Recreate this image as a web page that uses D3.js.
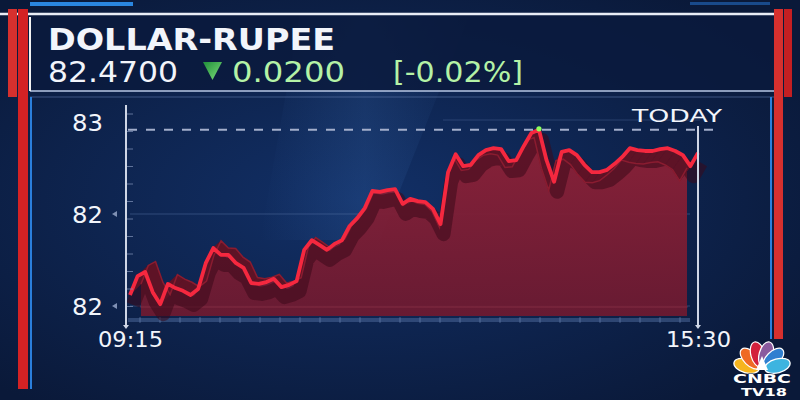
<!DOCTYPE html>
<html>
<head>
<meta charset="utf-8">
<title>DOLLAR-RUPEE</title>
<script src="https://d3js.org/d3.v7.min.js"></script>
<style>
  body, html { margin: 0; padding: 0; background: #0a1836; overflow: hidden; }
  svg { display: block; }
  .lbl { font-family: "DejaVu Sans", Arial, sans-serif; fill: #f2f5fb; }
</style>
</head>
<body>
<div id="canvas"></div>
<script>
// ---- data ----
var title = "DOLLAR-RUPEE";
var lastPrice = "82.4700";
var change = "0.0200";
var changePct = "[-0.02%]";
var periodLabel = "TODAY";
var timeLabels = ["09:15", "15:30"];
var sessionMinutes = [0, 375];       // 09:15 -> 15:30
var stepMinutes = 5;
var yTicks = [82.2, 82.4, 82.6];
// USD/INR, one point every 5 minutes from 09:15
var rates = [
  82.224, 82.265, 82.274, 82.230, 82.204, 82.248, 82.239, 82.233, 82.224, 82.237,
  82.293, 82.326, 82.311, 82.311, 82.293, 82.283, 82.250, 82.248, 82.252, 82.259,
  82.241, 82.246, 82.254, 82.322, 82.343, 82.333, 82.322, 82.335, 82.343, 82.374,
  82.391, 82.413, 82.450, 82.448, 82.452, 82.454, 82.422, 82.433, 82.428, 82.426,
  82.411, 82.378, 82.491, 82.530, 82.504, 82.507, 82.528, 82.539, 82.543, 82.541,
  82.515, 82.517, 82.548, 82.576, 82.583, 82.517, 82.470, 82.535, 82.539, 82.528,
  82.507, 82.491, 82.491, 82.496, 82.509, 82.524, 82.543, 82.539, 82.537, 82.537,
  82.541, 82.543, 82.537, 82.528, 82.504, 82.533
];

var W = 800, H = 400;
var svg = d3.select("#canvas").append("svg")
    .attr("width", W).attr("height", H);
var defs = svg.append("defs");

// background
var bg = defs.append("radialGradient").attr("id", "bg")
    .attr("cx", "45%").attr("cy", "50%").attr("r", "65%");
bg.append("stop").attr("offset", "0%").attr("stop-color", "#123067");
bg.append("stop").attr("offset", "100%").attr("stop-color", "#0a1939");
svg.append("rect").attr("width", W).attr("height", H).attr("fill", "url(#bg)");

// light streak
var streak = defs.append("linearGradient").attr("id", "streak")
    .attr("x1", "0").attr("y1", "0").attr("x2", "1").attr("y2", "0");
streak.append("stop").attr("offset", "0%").attr("stop-color", "#3a6cb0").attr("stop-opacity", 0);
streak.append("stop").attr("offset", "50%").attr("stop-color", "#3a6cb0").attr("stop-opacity", 0.35);
streak.append("stop").attr("offset", "100%").attr("stop-color", "#3a6cb0").attr("stop-opacity", 0);
svg.append("path").attr("d", "M300,14 L470,14 L380,240 L260,240 Z").attr("fill", "url(#streak)").attr("opacity", 0.6);

// header panel
svg.append("rect").attr("x", 30).attr("y", 15).attr("width", 745).attr("height", 76)
    .attr("fill", "#0a1a3d").attr("opacity", 0.85);
svg.append("line").attr("x1", 0).attr("x2", 778).attr("y1", 14).attr("y2", 14)
    .attr("stroke", "#e9edf6").attr("stroke-width", 2.5);
svg.append("line").attr("x1", 30).attr("x2", 778).attr("y1", 91).attr("y2", 91)
    .attr("stroke", "#b9c8e6").attr("stroke-width", 1.5);
svg.append("line").attr("x1", 30).attr("x2", 775).attr("y1", 97).attr("y2", 97)
    .attr("stroke", "#5d77a8").attr("stroke-width", 1).attr("opacity", 0.6);
svg.append("rect").attr("x", 30).attr("y", 2).attr("width", 103).attr("height", 4).attr("fill", "#2a86e0");
svg.append("rect").attr("x", 690).attr("y", 2).attr("width", 80).attr("height", 3).attr("fill", "#1f5fae").attr("opacity", 0.7);

// side bars
svg.append("rect").attr("x", 30).attr("y", 97).attr("width", 2).attr("height", 292).attr("fill", "#2b7fdc");
svg.append("rect").attr("x", 770).attr("y", 97).attr("width", 2).attr("height", 242).attr("fill", "#2b7fdc");
svg.append("rect").attr("x", 8).attr("y", 9).attr("width", 9).attr("height", 88).attr("fill", "#d6302e");
svg.append("rect").attr("x", 18).attr("y", 9).attr("width", 10).attr("height", 380).attr("fill", "#d42224");
svg.append("rect").attr("x", 29).attr("y", 17).attr("width", 2).attr("height", 74).attr("fill", "#f2f2f2");
svg.append("rect").attr("x", 774).attr("y", 9).attr("width", 9).attr("height", 330).attr("fill", "#d6302e");
svg.append("rect").attr("x", 784).attr("y", 9).attr("width", 8).attr("height", 88).attr("fill", "#c41f22");

// header text
svg.append("text").attr("class", "lbl").text(title)
    .attr("x", 48).attr("y", 50).attr("textLength", 287).attr("lengthAdjust", "spacingAndGlyphs")
    .style("font-size", "30px").style("font-weight", "bold");
svg.append("text").attr("class", "lbl").text(lastPrice)
    .attr("x", 48).attr("y", 82).attr("textLength", 130).attr("lengthAdjust", "spacingAndGlyphs")
    .style("font-size", "28px");
var tri = defs.append("linearGradient").attr("id", "tri")
    .attr("x1", "0").attr("y1", "0").attr("x2", "1").attr("y2", "1");
tri.append("stop").attr("offset", "0%").attr("stop-color", "#1f8f3a");
tri.append("stop").attr("offset", "100%").attr("stop-color", "#7fe07a");
svg.append("path").attr("d", "M203,62 L222,62 L212.5,80 Z").attr("fill", "url(#tri)");
svg.append("text").attr("class", "lbl").text(change)
    .attr("x", 232).attr("y", 82).attr("textLength", 113).attr("lengthAdjust", "spacingAndGlyphs")
    .style("font-size", "28px").style("fill", "#b4f2a6");
svg.append("text").attr("class", "lbl").text(changePct)
    .attr("x", 393).attr("y", 82).attr("textLength", 130).attr("lengthAdjust", "spacingAndGlyphs")
    .style("font-size", "28px").style("fill", "#b4f2a6");

// ---- chart ----
var x = d3.scaleLinear().domain(sessionMinutes).range([130, 698]);
var y = d3.scaleLinear().domain([yTicks[0], yTicks[2]]).range([306, 122]);
var pts = rates.map(function(v, i) { return [x(i * stepMinutes), y(v)]; });
var n = pts.length;
var baseY = 316;

// grid
svg.append("g").selectAll("line").data(yTicks.slice(0, 2)).enter().append("line")
    .attr("x1", 130).attr("x2", 690)
    .attr("y1", function(d) { return y(d); }).attr("y2", function(d) { return y(d); })
    .attr("stroke", "#5a76a8").attr("stroke-width", 1).attr("opacity", 0.45);
svg.append("line").attr("x1", 443).attr("x2", 700).attr("y1", 120).attr("y2", 120)
    .attr("stroke", "#5a76a8").attr("opacity", 0.35);
svg.append("rect").attr("x", 128).attr("y", 318).attr("width", 562).attr("height", 4)
    .attr("fill", "#4a6698").attr("opacity", 0.55);
svg.append("g").selectAll("line").data(d3.range(0, 28)).enter().append("line")
    .attr("x1", function(d) { return 140 + d * 20; }).attr("x2", function(d) { return 140 + d * 20; })
    .attr("y1", 317).attr("y2", 323).attr("stroke", "#7d94c0").attr("opacity", 0.5);

// back layer (3D depth)
var back = pts.map(function(p, i) {
  var t = i / (n - 1);
  return [p[0] + 11 - 22 * t, p[1] - 11 + 26 * t];
});

var fillG = defs.append("linearGradient").attr("id", "fillG")
    .attr("x1", "0").attr("y1", "0").attr("x2", "0").attr("y2", "1");
fillG.append("stop").attr("offset", "0%").attr("stop-color", "#8e2137");
fillG.append("stop").attr("offset", "100%").attr("stop-color", "#6c1a31");
var area = d3.area().x(function(d) { return d[0]; }).y0(baseY).y1(function(d) { return d[1]; });
svg.append("path").datum(back).attr("d", area).attr("fill", "url(#fillG)").attr("opacity", 0.95);
svg.append("line").attr("x1", 140).attr("x2", 688).attr("y1", 307).attr("y2", 307)
    .attr("stroke", "#b04a60").attr("opacity", 0.35);

var line = d3.line().x(function(d) { return d[0]; }).y(function(d) { return d[1]; });
// shadow under the ribbon
svg.append("path").datum(pts.map(function(p) { return [p[0] + 3, p[1] + 10]; }))
    .attr("d", line).attr("fill", "none").attr("stroke", "#3a0a1a")
    .attr("stroke-width", 14).attr("stroke-linejoin", "round").attr("opacity", 0.55);

// walls
var walls = d3.range(n - 1).map(function(i) {
  return [pts[i], pts[i + 1], back[i + 1], back[i]];
});
svg.append("g").selectAll("path").data(walls).enter().append("path")
    .attr("d", function(d) { return "M" + d.join("L") + "Z"; })
    .attr("fill", "#5e1326").attr("stroke", "#5e1326").attr("stroke-width", 0.6);
svg.append("path").datum(back).attr("d", line).attr("fill", "none")
    .attr("stroke", "#8a1c30").attr("stroke-width", 1.5);

// front line
svg.append("path").datum(pts).attr("d", line).attr("fill", "none")
    .attr("stroke", "#f5283f").attr("stroke-width", 3.8).attr("stroke-linejoin", "round");

// day high
var hi = d3.max(rates);
var hiIdx = rates.indexOf(hi);
svg.append("line").attr("x1", 128).attr("x2", 718).attr("y1", y(hi)).attr("y2", y(hi))
    .attr("stroke", "#a3aecb").attr("stroke-width", 2).attr("stroke-dasharray", "9,9");
svg.append("circle").attr("cx", x(hiIdx * stepMinutes)).attr("cy", y(hi) - 1).attr("r", 2.6).attr("fill", "#8dff5e");

// axis lines
svg.append("line").attr("x1", 126).attr("x2", 126).attr("y1", 105).attr("y2", 325)
    .attr("stroke", "#cfd6e6").attr("stroke-width", 2);
svg.append("line").attr("x1", 698).attr("x2", 698).attr("y1", 126).attr("y2", 325)
    .attr("stroke", "#cfd6e6").attr("stroke-width", 2);
svg.append("g").selectAll("path").data([126, 698]).enter().append("path")
    .attr("d", function(d) { return "M" + (d - 3) + ",325 L" + (d + 3) + ",325 L" + d + ",329 Z"; })
    .attr("fill", "#cfd6e6");
svg.append("g").selectAll("line").data(d3.range(0, 12)).enter().append("line")
    .attr("x1", 127).attr("x2", 133)
    .attr("y1", function(d) { return 114 + d * 17.5; }).attr("y2", function(d) { return 114 + d * 17.5; })
    .attr("stroke", "#8395bb").attr("opacity", 0.7);

// y axis labels
var yAxis = svg.append("g").attr("transform", "translate(103,0)")
    .call(d3.axisLeft(y).tickValues(yTicks).tickFormat(d3.format(".0f")).tickSize(0).tickPadding(0));
yAxis.select(".domain").remove();
yAxis.selectAll("text").attr("class", "lbl").attr("dy", "0.36em")
    .attr("textLength", 31).attr("lengthAdjust", "spacingAndGlyphs")
    .style("font-size", "23px").style("font-weight", "500").style("fill", "#f2f5fb");
svg.append("g").selectAll("path").data(yTicks.slice(0, 2)).enter().append("path")
    .attr("d", function(d) { var yy = y(d); return "M112," + yy + " L117," + (yy - 3) + " L117," + (yy + 3) + " Z"; })
    .attr("fill", "#7f90b4");

// x axis labels
var xAxis = svg.append("g").attr("transform", "translate(0,330)")
    .call(d3.axisBottom(x).tickValues(sessionMinutes)
      .tickFormat(function(d, i) { return timeLabels[i]; }).tickSize(0).tickPadding(0));
xAxis.select(".domain").remove();
xAxis.selectAll("text").attr("class", "lbl").attr("dy", "0.76em")
    .attr("textLength", 65).attr("lengthAdjust", "spacingAndGlyphs")
    .style("font-size", "22px").style("font-weight", "500").style("fill", "#f2f5fb");

svg.append("text").attr("class", "lbl").text(periodLabel)
    .attr("x", 722).attr("y", 122).attr("text-anchor", "end")
    .attr("textLength", 90).attr("lengthAdjust", "spacingAndGlyphs")
    .style("font-size", "18px").style("font-weight", "500");

// CNBC TV18 logo
var logo = svg.append("g").attr("transform", "translate(762,370)");
var petals = ["#f6b51e", "#ef6a24", "#d3203c", "#8a5a9e", "#2f7fd0", "#3db4e0"];
petals.forEach(function(c, i) {
  var a = -75 + i * 30;
  logo.append("ellipse").attr("cx", 0).attr("cy", -16).attr("rx", 7).attr("ry", 13)
      .attr("fill", c).attr("stroke", "#ffffff").attr("stroke-width", 1.2)
      .attr("transform", "rotate(" + a + ")");
});
logo.append("path").attr("d", "M-6,0 L6,0 L0,-14 Z").attr("fill", "#ffffff");
logo.append("text").text("CNBC").attr("x", 0).attr("y", 13).attr("text-anchor", "middle")
    .attr("textLength", 58).attr("lengthAdjust", "spacingAndGlyphs")
    .style("font-family", "DejaVu Sans").style("font-weight", "bold").style("font-size", "12px")
    .style("fill", "#fff").style("stroke", "#0a1836").style("stroke-width", 0.8).style("paint-order", "stroke");
logo.append("text").text("TV18").attr("x", 2).attr("y", 26).attr("text-anchor", "middle")
    .attr("textLength", 46).attr("lengthAdjust", "spacingAndGlyphs")
    .style("font-family", "DejaVu Sans").style("font-weight", "bold").style("font-size", "11px")
    .style("fill", "#fff").style("stroke", "#0a1836").style("stroke-width", 0.8).style("paint-order", "stroke");
</script>
</body>
</html>
